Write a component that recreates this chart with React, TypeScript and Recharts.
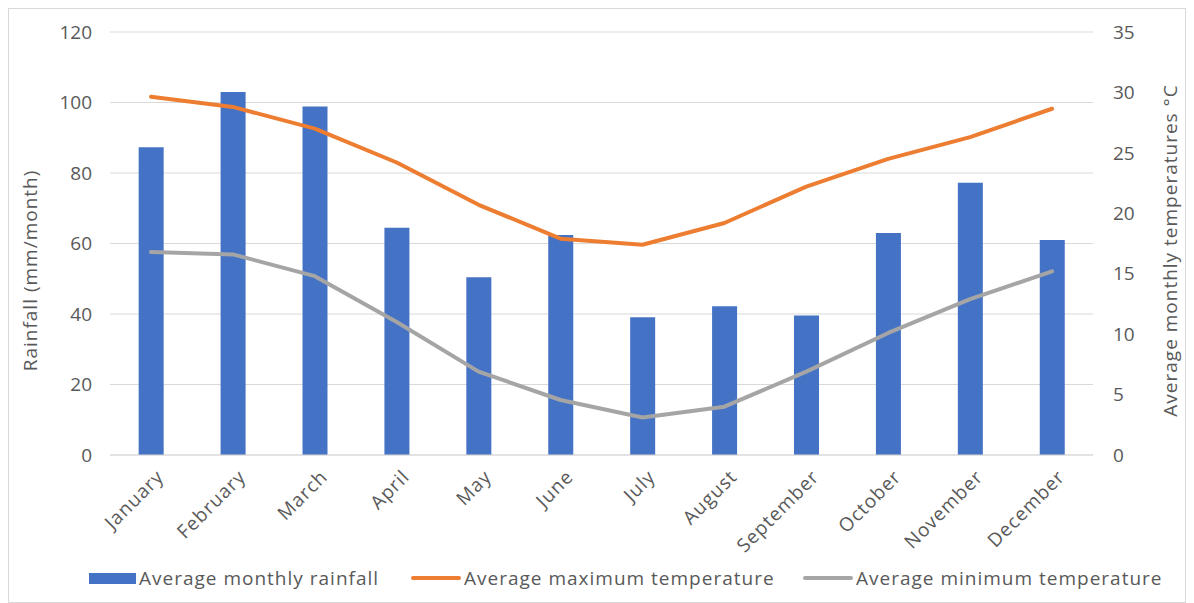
import React from "react";
import {
  ComposedChart,
  Bar,
  Line,
  XAxis,
  YAxis,
  CartesianGrid,
  Legend,
} from "recharts";

const months = [
  "January",
  "February",
  "March",
  "April",
  "May",
  "June",
  "July",
  "August",
  "September",
  "October",
  "November",
  "December",
];
const rainfall = [87.3, 103.0, 98.9, 64.5, 50.4, 62.4, 39.1, 42.2, 39.6, 63.0, 77.2, 61.0];
const maxTemp = [29.65, 28.8, 27.0, 24.2, 20.7, 17.9, 17.4, 19.2, 22.2, 24.5, 26.3, 28.65];
const minTemp = [16.8, 16.6, 14.8, 11.0, 6.9, 4.55, 3.1, 4.0, 6.9, 10.1, 12.9, 15.2];
const rainTicks = [0, 20, 40, 60, 80, 100, 120];
const tempTicks = [0, 5, 10, 15, 20, 25, 30, 35];
const legendOrder = ["rain", "max", "min"];

const data = months.map((month, i) => ({
  month,
  rain: rainfall[i],
  max: maxTemp[i],
  min: minTemp[i],
}));

const FONT = "'Open Sans', sans-serif";
const TEXT = "#595959";
const GRID = "#d9d9d9";

const MonthTick = ({ x, y, payload }: any) => (
  <g transform={`translate(${x + 14},${y + 15})`}>
    <text
      x={0}
      y={0}
      textAnchor="end"
      transform="rotate(-45)"
      fill={TEXT}
      fontSize={19}
      fontFamily={FONT}
      letterSpacing={1}
    >
      {payload.value}
    </text>
  </g>
);

const itemWidths = [322, 392, undefined];

const LegendContent = ({ payload }: any) => {
  const items = [...(payload || [])].sort(
    (a: any, b: any) => legendOrder.indexOf(a.dataKey) - legendOrder.indexOf(b.dataKey)
  );
  return (
    <div
      style={{
        height: 30,
        display: "flex",
        alignItems: "center",
        paddingLeft: 80,
        fontFamily: FONT,
        fontSize: 19,
        letterSpacing: 1,
        color: TEXT,
      }}
    >
      {items.map((entry: any, i: number) => (
        <div
          key={`legend-${i}`}
          style={{ display: "flex", alignItems: "center", width: itemWidths[i] }}
        >
          {entry.type === "rect" ? (
            <span
              style={{
                display: "inline-block",
                width: 47,
                height: 11,
                background: entry.color,
                marginRight: 3,
              }}
            />
          ) : (
            <span
              style={{
                display: "inline-block",
                width: 50,
                height: 4,
                borderRadius: 2,
                background: entry.color,
                marginRight: 3,
              }}
            />
          )}
          <span style={{ whiteSpace: "nowrap" }}>{entry.value}</span>
        </div>
      ))}
    </div>
  );
};

export default function App() {
  return (
    <div
      style={{
        width: 1178,
        height: 595,
        border: `1px solid ${GRID}`,
        boxSizing: "border-box",
        background: "#fff",
      }}
    >
      <ComposedChart
        width={1176}
        height={593}
        data={data}
        margin={{ top: 23, right: 0, left: 0, bottom: 9 }}
        barCategoryGap="35%"
      >
        <CartesianGrid vertical={false} stroke={GRID} yAxisId="rain" />
        <XAxis
          dataKey="month"
          tickLine={false}
          axisLine={{ stroke: GRID }}
          tick={<MonthTick />}
          interval={0}
          height={108}
        />
        <YAxis
          yAxisId="rain"
          orientation="left"
          domain={[0, 120]}
          ticks={rainTicks}
          width={101}
          tickLine={false}
          axisLine={false}
          tickSize={0}
          tickMargin={18}
          tick={{ fill: TEXT, fontSize: 19, fontFamily: FONT }}
          label={{
            value: "Rainfall (mm/month)",
            angle: -90,
            position: "center",
            dx: -29,
            dy: 27,
            fill: TEXT,
            fontSize: 19,
            fontFamily: FONT,
            letterSpacing: 1,
          }}
        />
        <YAxis
          yAxisId="temp"
          orientation="right"
          domain={[0, 35]}
          ticks={tempTicks}
          width={92}
          tickLine={false}
          axisLine={false}
          tickSize={0}
          tickMargin={20}
          tick={{ fill: TEXT, fontSize: 19, fontFamily: FONT }}
          label={{
            value: "Average monthly temperatures  °C",
            angle: -90,
            position: "center",
            dx: 31,
            dy: 7,
            fill: TEXT,
            fontSize: 19,
            fontFamily: FONT,
            letterSpacing: 1,
          }}
        />
        <Bar
          yAxisId="rain"
          dataKey="rain"
          name="Average monthly rainfall"
          fill="#4472C4"
          legendType="rect"
          isAnimationActive={false}
        />
        <Line
          yAxisId="temp"
          dataKey="max"
          name="Average maximum temperature"
          type="linear"
          stroke="#ED7D31"
          strokeWidth={4}
          strokeLinecap="round"
          strokeLinejoin="round"
          dot={false}
          activeDot={false}
          legendType="line"
          isAnimationActive={false}
        />
        <Line
          yAxisId="temp"
          dataKey="min"
          name="Average minimum temperature"
          type="linear"
          stroke="#A5A5A5"
          strokeWidth={4}
          strokeLinecap="round"
          strokeLinejoin="round"
          dot={false}
          activeDot={false}
          legendType="line"
          isAnimationActive={false}
        />
        <Legend verticalAlign="bottom" content={<LegendContent />} />
      </ComposedChart>
    </div>
  );
}
